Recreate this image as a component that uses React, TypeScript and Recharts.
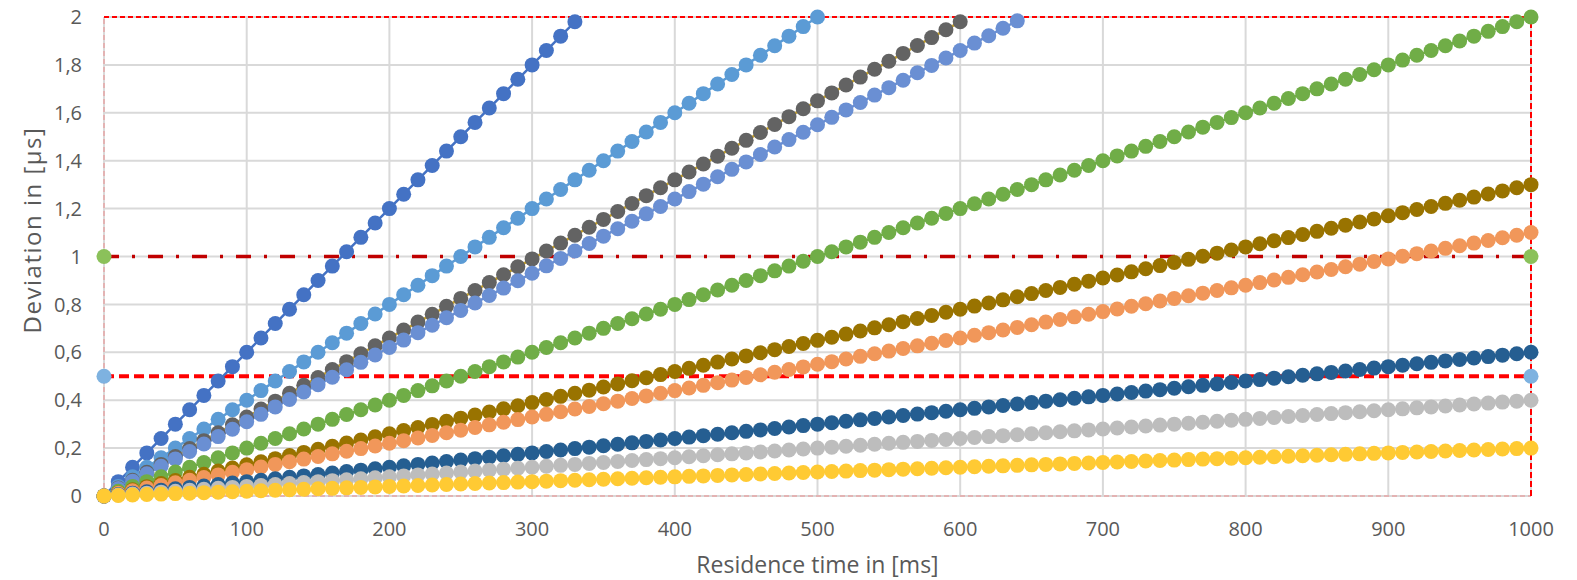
import React from 'react';
import { ComposedChart, Line, XAxis, YAxis, CartesianGrid, ReferenceLine } from 'recharts';

// Residence time in ms (one sample every 10 ms)
const xs = [0,10,20,30,40,50,60,70,80,90,100,110,120,130,140,150,160,170,180,190,200,210,220,230,240,250,260,270,280,290,300,310,320,330,340,350,360,370,380,390,400,410,420,430,440,450,460,470,480,490,500,510,520,530,540,550,560,570,580,590,600,610,620,630,640,650,660,670,680,690,700,710,720,730,740,750,760,770,780,790,800,810,820,830,840,850,860,870,880,890,900,910,920,930,940,950,960,970,980,990,1000];

// Deviation in µs, per series (aligned with xs from the start)
const seriesA = [0,0.06,0.12,0.18,0.24,0.30,0.36,0.42,0.48,0.54,0.60,0.66,0.72,0.78,0.84,0.90,0.96,1.02,1.08,1.14,1.20,1.26,1.32,1.38,1.44,1.50,1.56,1.62,1.68,1.74,1.80,1.86,1.92,1.98];
const seriesB = [0,0.04,0.08,0.12,0.16,0.20,0.24,0.28,0.32,0.36,0.40,0.44,0.48,0.52,0.56,0.60,0.64,0.68,0.72,0.76,0.80,0.84,0.88,0.92,0.96,1.00,1.04,1.08,1.12,1.16,1.20,1.24,1.28,1.32,1.36,1.40,1.44,1.48,1.52,1.56,1.60,1.64,1.68,1.72,1.76,1.80,1.84,1.88,1.92,1.96,2.00];
const seriesC = [0,0.033,0.066,0.099,0.132,0.165,0.198,0.231,0.264,0.297,0.330,0.363,0.396,0.429,0.462,0.495,0.528,0.561,0.594,0.627,0.660,0.693,0.726,0.759,0.792,0.825,0.858,0.891,0.924,0.957,0.990,1.023,1.056,1.089,1.122,1.155,1.188,1.221,1.254,1.287,1.320,1.353,1.386,1.419,1.452,1.485,1.518,1.551,1.584,1.617,1.650,1.683,1.716,1.749,1.782,1.815,1.848,1.881,1.914,1.947,1.980];
const seriesD = [0,0.031,0.062,0.093,0.124,0.155,0.186,0.217,0.248,0.279,0.310,0.341,0.372,0.403,0.434,0.465,0.496,0.527,0.558,0.589,0.620,0.651,0.682,0.713,0.744,0.775,0.806,0.837,0.868,0.899,0.930,0.961,0.992,1.023,1.054,1.085,1.116,1.147,1.178,1.209,1.240,1.271,1.302,1.333,1.364,1.395,1.426,1.457,1.488,1.519,1.550,1.581,1.612,1.643,1.674,1.705,1.736,1.767,1.798,1.829,1.860,1.891,1.922,1.953,1.984];
const seriesE = [0,0.02,0.04,0.06,0.08,0.10,0.12,0.14,0.16,0.18,0.20,0.22,0.24,0.26,0.28,0.30,0.32,0.34,0.36,0.38,0.40,0.42,0.44,0.46,0.48,0.50,0.52,0.54,0.56,0.58,0.60,0.62,0.64,0.66,0.68,0.70,0.72,0.74,0.76,0.78,0.80,0.82,0.84,0.86,0.88,0.90,0.92,0.94,0.96,0.98,1.00,1.02,1.04,1.06,1.08,1.10,1.12,1.14,1.16,1.18,1.20,1.22,1.24,1.26,1.28,1.30,1.32,1.34,1.36,1.38,1.40,1.42,1.44,1.46,1.48,1.50,1.52,1.54,1.56,1.58,1.60,1.62,1.64,1.66,1.68,1.70,1.72,1.74,1.76,1.78,1.80,1.82,1.84,1.86,1.88,1.90,1.92,1.94,1.96,1.98,2.00];
const seriesF = [0,0.013,0.026,0.039,0.052,0.065,0.078,0.091,0.104,0.117,0.130,0.143,0.156,0.169,0.182,0.195,0.208,0.221,0.234,0.247,0.260,0.273,0.286,0.299,0.312,0.325,0.338,0.351,0.364,0.377,0.390,0.403,0.416,0.429,0.442,0.455,0.468,0.481,0.494,0.507,0.520,0.533,0.546,0.559,0.572,0.585,0.598,0.611,0.624,0.637,0.650,0.663,0.676,0.689,0.702,0.715,0.728,0.741,0.754,0.767,0.780,0.793,0.806,0.819,0.832,0.845,0.858,0.871,0.884,0.897,0.910,0.923,0.936,0.949,0.962,0.975,0.988,1.001,1.014,1.027,1.040,1.053,1.066,1.079,1.092,1.105,1.118,1.131,1.144,1.157,1.170,1.183,1.196,1.209,1.222,1.235,1.248,1.261,1.274,1.287,1.300];
const seriesG = [0,0.011,0.022,0.033,0.044,0.055,0.066,0.077,0.088,0.099,0.110,0.121,0.132,0.143,0.154,0.165,0.176,0.187,0.198,0.209,0.220,0.231,0.242,0.253,0.264,0.275,0.286,0.297,0.308,0.319,0.330,0.341,0.352,0.363,0.374,0.385,0.396,0.407,0.418,0.429,0.440,0.451,0.462,0.473,0.484,0.495,0.506,0.517,0.528,0.539,0.550,0.561,0.572,0.583,0.594,0.605,0.616,0.627,0.638,0.649,0.660,0.671,0.682,0.693,0.704,0.715,0.726,0.737,0.748,0.759,0.770,0.781,0.792,0.803,0.814,0.825,0.836,0.847,0.858,0.869,0.880,0.891,0.902,0.913,0.924,0.935,0.946,0.957,0.968,0.979,0.990,1.001,1.012,1.023,1.034,1.045,1.056,1.067,1.078,1.089,1.100];
const seriesH = [0,0.006,0.012,0.018,0.024,0.030,0.036,0.042,0.048,0.054,0.060,0.066,0.072,0.078,0.084,0.090,0.096,0.102,0.108,0.114,0.120,0.126,0.132,0.138,0.144,0.150,0.156,0.162,0.168,0.174,0.180,0.186,0.192,0.198,0.204,0.210,0.216,0.222,0.228,0.234,0.240,0.246,0.252,0.258,0.264,0.270,0.276,0.282,0.288,0.294,0.300,0.306,0.312,0.318,0.324,0.330,0.336,0.342,0.348,0.354,0.360,0.366,0.372,0.378,0.384,0.390,0.396,0.402,0.408,0.414,0.420,0.426,0.432,0.438,0.444,0.450,0.456,0.462,0.468,0.474,0.480,0.486,0.492,0.498,0.504,0.510,0.516,0.522,0.528,0.534,0.540,0.546,0.552,0.558,0.564,0.570,0.576,0.582,0.588,0.594,0.600];
const seriesI = [0,0.004,0.008,0.012,0.016,0.020,0.024,0.028,0.032,0.036,0.040,0.044,0.048,0.052,0.056,0.060,0.064,0.068,0.072,0.076,0.080,0.084,0.088,0.092,0.096,0.100,0.104,0.108,0.112,0.116,0.120,0.124,0.128,0.132,0.136,0.140,0.144,0.148,0.152,0.156,0.160,0.164,0.168,0.172,0.176,0.180,0.184,0.188,0.192,0.196,0.200,0.204,0.208,0.212,0.216,0.220,0.224,0.228,0.232,0.236,0.240,0.244,0.248,0.252,0.256,0.260,0.264,0.268,0.272,0.276,0.280,0.284,0.288,0.292,0.296,0.300,0.304,0.308,0.312,0.316,0.320,0.324,0.328,0.332,0.336,0.340,0.344,0.348,0.352,0.356,0.360,0.364,0.368,0.372,0.376,0.380,0.384,0.388,0.392,0.396,0.400];
const seriesJ = [0,0.002,0.004,0.006,0.008,0.010,0.012,0.014,0.016,0.018,0.020,0.022,0.024,0.026,0.028,0.030,0.032,0.034,0.036,0.038,0.040,0.042,0.044,0.046,0.048,0.050,0.052,0.054,0.056,0.058,0.060,0.062,0.064,0.066,0.068,0.070,0.072,0.074,0.076,0.078,0.080,0.082,0.084,0.086,0.088,0.090,0.092,0.094,0.096,0.098,0.100,0.102,0.104,0.106,0.108,0.110,0.112,0.114,0.116,0.118,0.120,0.122,0.124,0.126,0.128,0.130,0.132,0.134,0.136,0.138,0.140,0.142,0.144,0.146,0.148,0.150,0.152,0.154,0.156,0.158,0.160,0.162,0.164,0.166,0.168,0.170,0.172,0.174,0.176,0.178,0.180,0.182,0.184,0.186,0.188,0.190,0.192,0.194,0.196,0.198,0.200];

// Limit lines
const limitX = [0, 1000];
const limit1 = [1, 1];
const limit05 = [0.5, 0.5];

const xTicks = [0,100,200,300,400,500,600,700,800,900,1000];
const yTicks = [0,0.2,0.4,0.6,0.8,1,1.2,1.4,1.6,1.8,2];

const zip = (x: number[], y: number[]) => y.map((v, i) => ({ x: x[i], y: v }));

const series = [
  { key: 'A', values: seriesA, color: '#4472C4', line: '#4472C4' },
  { key: 'B', values: seriesB, color: '#5B9BD5', line: '#5B9BD5' },
  { key: 'C', values: seriesC, color: '#636363', line: '#C9A227' },
  { key: 'D', values: seriesD, color: '#6A8FD3', line: '#6A8FD3' },
  { key: 'E', values: seriesE, color: '#70AD47', line: '#70AD47' },
  { key: 'F', values: seriesF, color: '#997300', line: '#997300' },
  { key: 'G', values: seriesG, color: '#F1975A', line: '#F1975A' },
  { key: 'H', values: seriesH, color: '#255E91', line: '#255E91' },
  { key: 'I', values: seriesI, color: '#BDBDBD', line: '#BDBDBD' },
  { key: 'J', values: seriesJ, color: '#FFCA33', line: '#FFCA33' },
];

const FONT = '"Open Sans", Lato, sans-serif';
const TEXT = '#595959';
const fmt = (v: number) => String(v).replace('.', ',');

export default function App() {
  return (
    <div style={{ position: 'absolute', left: 0, top: 0, width: 1577, height: 580, background: '#fff' }}>
      <ComposedChart width={1577} height={580} margin={{ top: 17, right: 46, bottom: 0, left: 0 }}>
        <CartesianGrid stroke="#D9D9D9" strokeWidth={2} />
        <XAxis
          type="number"
          dataKey="x"
          domain={[0, 1000]}
          ticks={xTicks}
          height={84}
          tickSize={0}
          tickMargin={26}
          axisLine={false}
          tick={{ fill: TEXT, fontSize: 20, fontFamily: FONT }}
          allowDuplicatedCategory={false}
          label={{
            content: (p: any) => {
              const vb = p.viewBox || {};
              return (
                <text x={vb.x + vb.width / 2} y={573} textAnchor="middle" fill={TEXT} fontSize={23} fontFamily={FONT}>
                  Residence time in [ms]
                </text>
              );
            },
          }}
        />
        <YAxis
          type="number"
          domain={[0, 2]}
          ticks={yTicks}
          width={104}
          tickSize={0}
          tickMargin={22}
          axisLine={false}
          tickFormatter={fmt}
          tick={{ fill: TEXT, fontSize: 20, fontFamily: FONT }}
          label={{
            content: () => (
              <text x={31} y={230} transform="rotate(-90, 31, 230)" textAnchor="middle" dominantBaseline="central" fill={TEXT} fontSize={24} letterSpacing={1.5} fontFamily={FONT}>
                Deviation in [µs]
              </text>
            ),
          }}
        />
        <ReferenceLine x={0} stroke="#E3B3B3" strokeWidth={2} strokeDasharray="5 3" />
        <ReferenceLine y={0} stroke="#E3B3B3" strokeWidth={2} strokeDasharray="5 3" />
        <ReferenceLine y={2} stroke="#FF0000" strokeWidth={2} strokeDasharray="5 3" />
        <ReferenceLine x={1000} stroke="#FF0000" strokeWidth={2} strokeDasharray="6 3" />
        <Line
          data={zip(limitX, limit1)}
          dataKey="y"
          stroke="#C00000"
          strokeWidth={3.5}
          strokeDasharray="15 13 3 13"
          dot={{ r: 7.5, fill: '#8BC15A', stroke: 'none', strokeWidth: 0, strokeDasharray: '0' }}
          activeDot={false}
          isAnimationActive={false}
        />
        <Line
          data={zip(limitX, limit05)}
          dataKey="y"
          stroke="#FF0000"
          strokeWidth={4}
          strokeDasharray="10 5"
          dot={{ r: 7.5, fill: '#7EB2E0', stroke: 'none', strokeWidth: 0, strokeDasharray: '0' }}
          activeDot={false}
          isAnimationActive={false}
        />
        {series.map((s) => (
          <Line
            key={s.key}
            data={zip(xs, s.values)}
            dataKey="y"
            stroke={s.line}
            strokeWidth={2.5}
            dot={{ r: 7.5, fill: s.color, stroke: 'none', strokeWidth: 0 }}
            activeDot={false}
            isAnimationActive={false}
          />
        ))}
      </ComposedChart>
    </div>
  );
}
